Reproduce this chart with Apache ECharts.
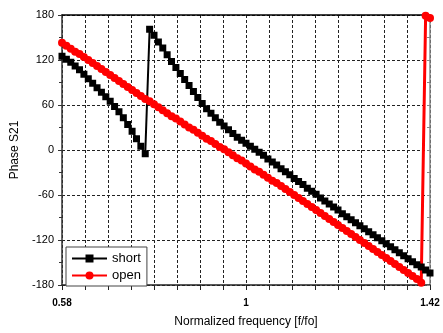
<!DOCTYPE html>
<html>
<head>
<meta charset="utf-8">
<script src="https://cdn.jsdelivr.net/npm/echarts@6/dist/echarts.min.js"></script>
<style>
  html, body { margin: 0; padding: 0; background: #fff; }
  #chart { width: 443px; height: 333px; }
</style>
</head>
<body>
<div id="chart"></div>
<script>
// normalized frequency samples (f/fo)
const freq = [
  0.58, 0.59, 0.60, 0.61, 0.62, 0.63, 0.64, 0.65, 0.66, 0.67, 0.68, 0.69, 0.70, 0.71, 0.72,
  0.73, 0.74, 0.75, 0.76, 0.77, 0.78, 0.79, 0.80, 0.81, 0.82, 0.83, 0.84, 0.85, 0.86, 0.87,
  0.88, 0.89, 0.90, 0.91, 0.92, 0.93, 0.94, 0.95, 0.96, 0.97, 0.98, 0.99, 1.00, 1.01, 1.02,
  1.03, 1.04, 1.05, 1.06, 1.07, 1.08, 1.09, 1.10, 1.11, 1.12, 1.13, 1.14, 1.15, 1.16, 1.17,
  1.18, 1.19, 1.20, 1.21, 1.22, 1.23, 1.24, 1.25, 1.26, 1.27, 1.28, 1.29, 1.30, 1.31, 1.32,
  1.33, 1.34, 1.35, 1.36, 1.37, 1.38, 1.39, 1.40, 1.41, 1.42
];

// phase of S21, degrees
const shortPhase = [
  125, 121, 117, 112, 107, 101, 95, 89, 83, 77, 71, 65, 58, 51, 43,
  34, 25, 15, 5, -5, 161, 153, 144, 136, 127, 118, 110, 102, 94, 86,
  78, 70, 62, 55, 49, 43, 37, 32, 27, 22, 17, 13, 9, 5, 1,
  -3, -7, -12, -16, -20, -25, -29, -33, -38, -42, -46, -51, -55, -59, -64,
  -68, -72, -76, -80, -85, -89, -93, -97, -101, -105, -109, -113, -117, -121, -125,
  -129, -133, -137, -141, -145, -149, -153, -156, -160, -164
];

const openPhase = [
  143, 139, 135, 131, 128, 124, 120, 116, 112, 108, 104, 100, 96, 92, 88,
  84, 80, 76, 72, 68, 65, 61, 57, 53, 49, 45, 42, 38, 34, 30,
  27, 23, 19, 15, 12, 8, 4, 1, -3, -7, -11, -14, -18, -22, -26,
  -29, -33, -37, -41, -44, -48, -52, -56, -60, -64, -68, -72, -76, -80, -84,
  -88, -92, -96, -100, -104, -108, -112, -116, -120, -124, -128, -132, -136, -140, -144,
  -148, -152, -156, -160, -164, -168, -172, -177, 179, 176
];

const xLabels = [0.58, 1, 1.42];

const pairs = (ys) => freq.map((f, i) => [f, ys[i]]);

const chart = echarts.init(document.getElementById("chart"), null, { renderer: "canvas" });

const font = "Liberation Sans, Arial, sans-serif";
const gridLine = { show: true, lineStyle: { color: "#222", type: [3, 2], width: 1 } };

chart.setOption({
  animation: false,
  backgroundColor: "#fff",
  textStyle: { fontFamily: font },
  grid: { left: 62, right: 13, top: 15, bottom: 45 },
  legend: {
    left: 66,
    top: 247,
    orient: "vertical",
    padding: [5, 6, 4, 5],
    itemWidth: 35,
    itemHeight: 10,
    itemGap: 4,
    borderColor: "#444",
    borderWidth: 1,
    backgroundColor: "#fff",
    textStyle: { fontSize: 13, color: "#000", fontFamily: font },
    data: ["short", "open"],
  },
  xAxis: [
    {
      type: "value",
      min: 0.58,
      max: 1.42,
      interval: 0.0525,
      name: "Normalized frequency [f/fo]",
      nameLocation: "middle",
      nameGap: 31,
      nameTextStyle: { fontSize: 12, color: "#000" },
      axisLine: { onZero: false, lineStyle: { color: "#222", width: 1.5 } },
      axisTick: { show: true, inside: false, length: 5, lineStyle: { color: "#222" } },
      axisLabel: {
        fontSize: 10,
        fontWeight: "bold",
        color: "#000",
        margin: 13,
        showMinLabel: true,
        showMaxLabel: true,
        formatter: (v) => {
          const hit = xLabels.find((l) => Math.abs(l - v) < 1e-6);
          return hit === undefined ? "" : String(hit);
        },
      },
      splitLine: gridLine,
    },
    {
      type: "value",
      position: "top",
      min: 0.58,
      max: 1.42,
      axisLine: { show: true, onZero: false, lineStyle: { color: "#000", width: 1.5 } },
      axisTick: { show: false },
      axisLabel: { show: false },
      splitLine: { show: false },
    },
  ],
  yAxis: [
    {
      type: "value",
      min: -180,
      max: 180,
      interval: 60,
      name: "Phase S21",
      nameLocation: "middle",
      nameGap: 37,
      nameTextStyle: { fontSize: 12, color: "#000" },
      axisLine: { show: true, onZero: false, lineStyle: { color: "#333", width: 1.5 } },
      axisTick: { show: true, inside: false, length: 4, lineStyle: { color: "#333" } },
      minorTick: { show: true, splitNumber: 2, length: 3, lineStyle: { color: "#333" } },
      axisLabel: { fontSize: 11, color: "#000", margin: 8 },
      splitLine: gridLine,
    },
    {
      type: "value",
      position: "right",
      min: -180,
      max: 180,
      interval: 60,
      axisLine: { show: true, onZero: false, lineStyle: { color: "#888", width: 1.5 } },
      axisTick: { show: true, inside: true, length: 3, lineStyle: { color: "#888" } },
      minorTick: { show: true, splitNumber: 2, length: 3, lineStyle: { color: "#888" } },
      axisLabel: { show: false },
      splitLine: { show: false },
    },
  ],
  series: [
    {
      name: "short",
      type: "line",
      data: pairs(shortPhase),
      color: "#000",
      symbol: "rect",
      symbolSize: 7,
      showAllSymbol: true,
      lineStyle: { color: "#000", width: 2 },
      itemStyle: { color: "#000" },
    },
    {
      name: "open",
      type: "line",
      data: pairs(openPhase),
      color: "#ff0000",
      symbol: "circle",
      symbolSize: 8,
      showAllSymbol: true,
      lineStyle: { color: "#ff0000", width: 3 },
      itemStyle: { color: "#ff0000" },
    },
  ],
});
</script>
</body>
</html>
